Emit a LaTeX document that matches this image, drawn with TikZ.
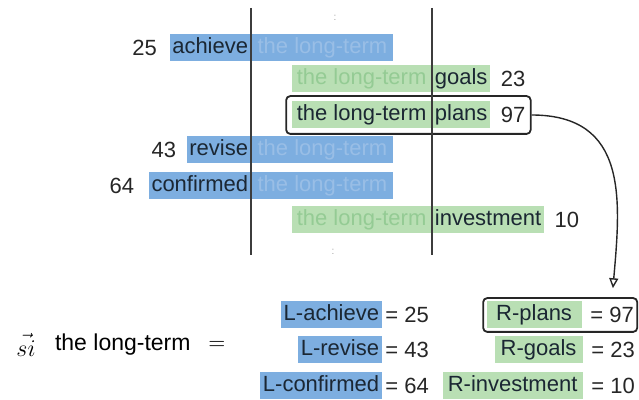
\documentclass[tikz,border=0pt]{standalone}
\usepackage{fontspec}
\setmainfont{Liberation Sans}
\usepackage{tikz}
\usetikzlibrary{arrows.meta,positioning,fit}
\definecolor{Ctx_Blue}{HTML}{7DAEE0}
\definecolor{Ctx_BlueFade}{HTML}{99BEE6}
\definecolor{Ctx_Green}{HTML}{B9DFB4}
\definecolor{Ctx_GreenFade}{HTML}{94CB94}
\definecolor{Ink_Dark}{HTML}{1B2733}
\definecolor{Ink_Gray}{HTML}{3C3C3C}

\begin{document}
\begin{tikzpicture}[x=0.5pt, y=-0.5pt, >={Triangle[open,length=5pt,width=4.5pt]},
    font=\fontsize{11}{13}\selectfont,
    tok/.style={inner xsep=1.25pt, inner ysep=1.5pt, text height=8pt, text depth=2.5pt},
    lword/.style={tok, fill=Ctx_Blue, text=Ink_Dark},
    lctx/.style={tok, fill=Ctx_Blue, text=Ctx_BlueFade, minimum width=71pt},
    rword/.style={tok, fill=Ctx_Green, text=Ink_Dark},
    rctx/.style={tok, fill=Ctx_Green, text=Ctx_GreenFade, minimum width=70pt},
    freq/.style={text=black!85, inner sep=0pt},
    colrule/.style={line width=1pt, Ink_Gray},
    vdots/.style={text=black!35, font=\tiny, inner sep=0pt},
    hilite/.style={draw=black!85, line width=0.9pt, rounded corners=2pt, inner sep=2.5pt}]

    \useasboundingbox (0,0) rectangle (639,400);

    % Left contexts (blue)
    \node[lword, anchor=east] (achieve) at (251,48) {achieve};
    \node[lctx, anchor=west] (achieveCtx) at (251,48) {the long-term};
    \node[freq, left=6pt of achieve] (achieveN) {25};

    \node[lword, anchor=east] (revise) at (251,150) {revise};
    \node[lctx, anchor=west] (reviseCtx) at (251,150) {the long-term};
    \node[freq, left=5pt of revise] (reviseN) {43};

    \node[lword, anchor=east] (confirmed) at (251,186) {confirmed};
    \node[lctx, anchor=west] (confirmedCtx) at (251,186) {the long-term};
    \node[freq, left=7pt of confirmed] (confirmedN) {64};

    % Right contexts (green)
    \node[rctx, anchor=east] (goalsCtx) at (432,79) {the long-term};
    \node[rword, anchor=west] (goals) at (432,79) {goals};
    \node[freq, right=5pt of goals] (goalsN) {23};

    \node[rctx, text=Ink_Dark, anchor=east] (plansCtx) at (432,115) {the long-term};
    \node[rword, anchor=west] (plans) at (432,115) {plans};
    \node[freq, right=5pt of plans] (plansN) {97};
    \node[hilite, fit=(plansCtx)(plans)(plansN)] (plansBox) {};

    \node[rctx, anchor=east] (investCtx) at (432,220) {the long-term};
    \node[rword, anchor=west] (invest) at (432,220) {investment};
    \node[freq, right=5pt of invest] (investN) {10};

    % Column rules and elision marks
    \draw[colrule] (251,8) -- (251,255);
    \draw[colrule] (432,8) -- (432,255);
    \node[vdots] (dotsTop) at (335,18) {:};
    \node[vdots] (dotsBottom) at (333,252) {:};

    % Vector of the phrase
    \node (siVec) at (26,345) {\fontsize{13}{15}\selectfont$\vec{si}$};
    \node[anchor=west, font=\fontsize{11.5}{14}\selectfont] (phrase) at (48,345) {the long-term};
    \node (eqSign) at (217,345) {$=$};

    % Left features
    \node[lword, anchor=east] (Lachieve) at (382,315) {L-achieve};
    \node[freq, right=1.5pt of Lachieve] (LachieveN) {= 25};
    \node[lword, anchor=east] (Lrevise) at (382,350) {L-revise};
    \node[freq, right=1.5pt of Lrevise] (LreviseN) {= 43};
    \node[lword, anchor=east] (Lconfirmed) at (382,386) {L-confirmed};
    \node[freq, right=1.5pt of Lconfirmed] (LconfirmedN) {= 64};

    % Right features
    \node[rword, anchor=east, minimum width=47.5pt] (Rplans) at (582,315) {R-plans};
    \node[freq, right=4pt of Rplans] (RplansN) {= 97};
    \node[hilite, inner sep=1.5pt, fit=(Rplans)(RplansN)] (RplansBox) {};
    \node[rword, anchor=east, minimum width=44pt] (Rgoals) at (583,350) {R-goals};
    \node[freq, right=4pt of Rgoals] (RgoalsN) {= 23};
    \node[rword, anchor=east, minimum width=70pt] (Rinvest) at (583,386) {R-investment};
    \node[freq, right=4pt of Rinvest] (RinvestN) {= 10};

    % Link from highlighted context to its feature
    \draw[->, line width=0.7pt, black!85, shorten >=4.5pt] (plansBox.east) to[out=0, in=85, looseness=1.25] (RplansBox.north -| RplansN);

\end{tikzpicture}
\end{document}
